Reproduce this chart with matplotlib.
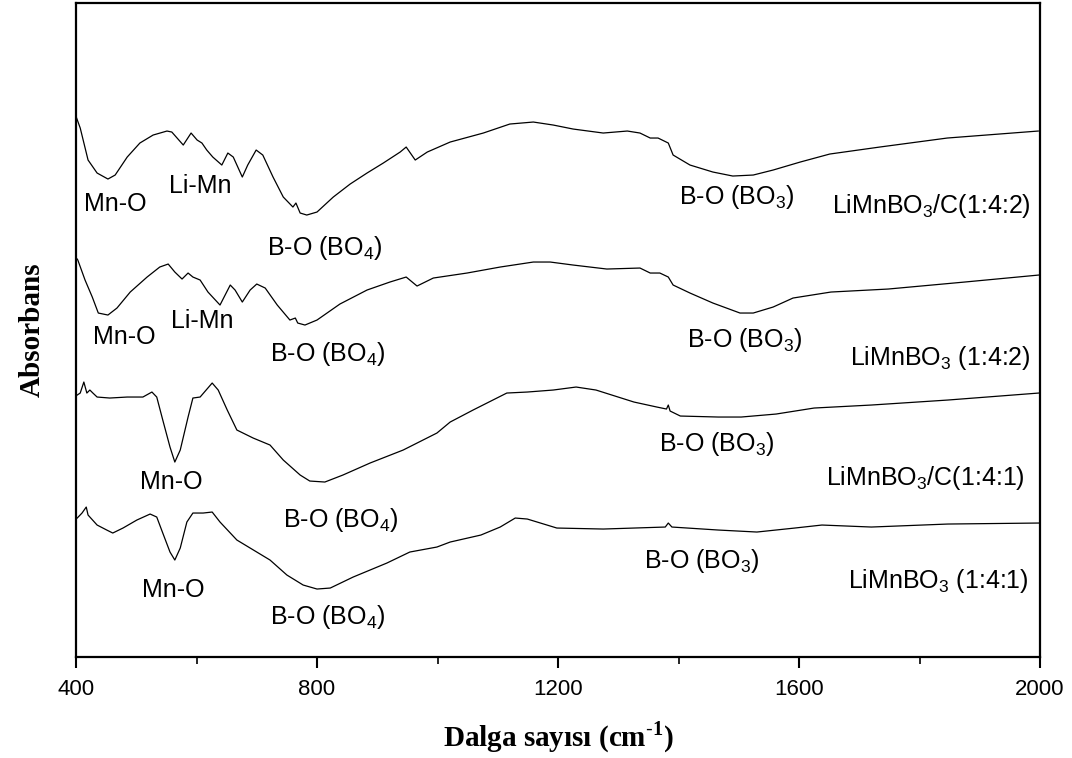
import numpy as np
import matplotlib
matplotlib.use('Agg')
import matplotlib.pyplot as plt
from matplotlib.ticker import MultipleLocator

plt.rcParams['font.family'] = ['Liberation Sans', 'DejaVu Sans']
plt.rcParams['mathtext.fontset'] = 'custom'
plt.rcParams['mathtext.rm'] = 'Liberation Sans'
plt.rcParams['mathtext.it'] = 'Liberation Sans:italic'
plt.rcParams['mathtext.bf'] = 'Liberation Serif:bold'

# FTIR spectra, stacked (arbitrary absorbance units, offsets included)
wn_142c = [401, 407, 420, 435, 453, 465, 485, 506, 528, 551, 559, 578, 591, 601, 609, 617,
           627, 642, 652, 661, 676, 685, 699, 710, 727, 744, 760, 765, 772, 783, 800, 827,
           855, 883, 910, 938, 948, 963, 983, 1021, 1076, 1120, 1159, 1192, 1225, 1275,
           1315, 1336, 1353, 1366, 1383, 1391, 1419, 1457, 1490, 1524, 1557, 1602, 1651,
           1734, 1846, 1997]
ab_142c = [5.39, 5.29, 4.97, 4.84, 4.78, 4.82, 5.00, 5.14, 5.22, 5.26, 5.25, 5.12, 5.24,
           5.17, 5.14, 5.07, 5.00, 4.92, 5.04, 5.00, 4.80, 4.92, 5.07, 5.02, 4.80, 4.60,
           4.50, 4.54, 4.44, 4.42, 4.45, 4.60, 4.73, 4.84, 4.94, 5.05, 5.10, 4.97, 5.05,
           5.15, 5.24, 5.33, 5.35, 5.32, 5.28, 5.24, 5.26, 5.24, 5.19, 5.19, 5.14, 5.02,
           4.92, 4.85, 4.81, 4.82, 4.87, 4.95, 5.03, 5.10, 5.19, 5.26]

wn_142 = [402, 403, 415, 427, 437, 453, 468, 490, 518, 539, 553, 564, 576, 586, 594, 606,
          619, 639, 656, 664, 676, 689, 700, 714, 734, 755, 764, 768, 780, 800, 838, 883,
          921, 948, 966, 993, 1049, 1104, 1159, 1187, 1225, 1281, 1336, 1353, 1369, 1383,
          1391, 1419, 1457, 1502, 1524, 1557, 1590, 1653, 1748, 1875, 1998]
ab_142 = [3.98, 3.97, 3.77, 3.60, 3.44, 3.42, 3.49, 3.65, 3.80, 3.90, 3.93, 3.85, 3.78,
          3.84, 3.80, 3.77, 3.65, 3.52, 3.72, 3.67, 3.55, 3.67, 3.73, 3.69, 3.52, 3.37,
          3.39, 3.34, 3.32, 3.37, 3.53, 3.67, 3.75, 3.80, 3.71, 3.79, 3.84, 3.90, 3.95,
          3.95, 3.92, 3.88, 3.89, 3.84, 3.84, 3.80, 3.72, 3.64, 3.54, 3.44, 3.44, 3.50,
          3.59, 3.65, 3.68, 3.75, 3.82]

wn_141c = [402, 407, 413, 418, 423, 428, 435, 456, 485, 511, 526, 534, 544, 556, 564, 573,
           586, 594, 606, 626, 636, 651, 667, 694, 722, 744, 772, 788, 813, 843, 888, 943,
           999, 1021, 1059, 1115, 1149, 1192, 1230, 1263, 1326, 1364, 1380, 1383, 1386,
           1403, 1466, 1504, 1562, 1625, 1720, 1847, 1998]
ab_141c = [2.62, 2.64, 2.75, 2.64, 2.67, 2.64, 2.60, 2.59, 2.60, 2.60, 2.65, 2.60, 2.37,
           2.10, 1.95, 2.07, 2.40, 2.59, 2.60, 2.74, 2.67, 2.47, 2.27, 2.19, 2.12, 1.97,
           1.82, 1.76, 1.75, 1.82, 1.94, 2.07, 2.24, 2.35, 2.47, 2.64, 2.65, 2.67, 2.70,
           2.67, 2.55, 2.50, 2.48, 2.52, 2.46, 2.41, 2.40, 2.40, 2.43, 2.49, 2.52, 2.57, 2.64]

wn_141 = [402, 410, 417, 420, 435, 451, 461, 478, 501, 523, 534, 544, 556, 564, 573, 584,
          594, 611, 626, 639, 667, 722, 750, 777, 800, 822, 860, 916, 954, 999, 1021, 1072,
          1104, 1129, 1149, 1198, 1275, 1378, 1383, 1389, 1466, 1530, 1593, 1638, 1720,
          1847, 1998]
ab_141 = [1.39, 1.44, 1.50, 1.42, 1.32, 1.27, 1.24, 1.29, 1.37, 1.43, 1.40, 1.24, 1.05,
          0.97, 1.09, 1.35, 1.44, 1.44, 1.45, 1.35, 1.17, 0.97, 0.82, 0.72, 0.68, 0.69,
          0.80, 0.94, 1.05, 1.10, 1.15, 1.22, 1.30, 1.39, 1.38, 1.29, 1.28, 1.30, 1.34,
          1.30, 1.27, 1.25, 1.29, 1.32, 1.30, 1.33, 1.34]

series = [(wn_142c, ab_142c), (wn_142, ab_142), (wn_141c, ab_141c), (wn_141, ab_141)]

# band labels: (text, wavenumber, absorbance)
bands = [
    ('Mn-O', 465, 4.53), ('Li-Mn', 606, 4.71), ('B-O (BO$_4$)', 812, 4.09),
    ('B-O (BO$_3$)', 1496, 4.60), ('LiMnBO$_3$/C(1:4:2)', 1819, 4.51),
    ('Mn-O', 481, 3.20), ('Li-Mn', 609, 3.36), ('B-O (BO$_4$)', 818, 3.03),
    ('B-O (BO$_3$)', 1509, 3.17), ('LiMnBO$_3$ (1:4:2)', 1834, 2.99),
    ('Mn-O', 558, 1.75), ('B-O (BO$_4$)', 840, 1.37),
    ('B-O (BO$_3$)', 1464, 2.13), ('LiMnBO$_3$/C(1:4:1)', 1809, 1.79),
    ('Mn-O', 561, 0.67), ('B-O (BO$_4$)', 817, 0.40),
    ('B-O (BO$_3$)', 1439, 0.96), ('LiMnBO$_3$ (1:4:1)', 1831, 0.76),
]

fig = plt.figure(figsize=(10.72, 7.58), dpi=100)
ax = fig.add_axes([0.0709, 0.1332, 0.8993, 0.8628])

for wn, ab in series:
    ax.plot(wn, ab, color='black', linewidth=0.9)

for txt, x, y in bands:
    ax.text(x, y, txt, fontsize=18, ha='center', va='center', color='black')

ax.set_xlim(400, 2000)
ax.set_ylim(0, 6.54)
ax.xaxis.set_major_locator(MultipleLocator(400))
ax.xaxis.set_minor_locator(MultipleLocator(200))
ax.set_yticks([])
ax.tick_params(axis='x', which='major', direction='out', length=8, width=1.5,
               labelsize=16, pad=8)
ax.tick_params(axis='x', which='minor', direction='out', length=5, width=1.2)
for sp in ax.spines.values():
    sp.set_linewidth(1.6)

ax.set_xlabel(r'Dalga sayısı (cm$^{\mathbf{\text{-}1}}$)', fontsize=21, fontweight='bold',
              family='Liberation Serif', labelpad=14)
ax.set_ylabel('Absorbans', fontsize=21, fontweight='bold', family='Liberation Serif',
              labelpad=22)

fig.savefig('out.png', dpi=100)
